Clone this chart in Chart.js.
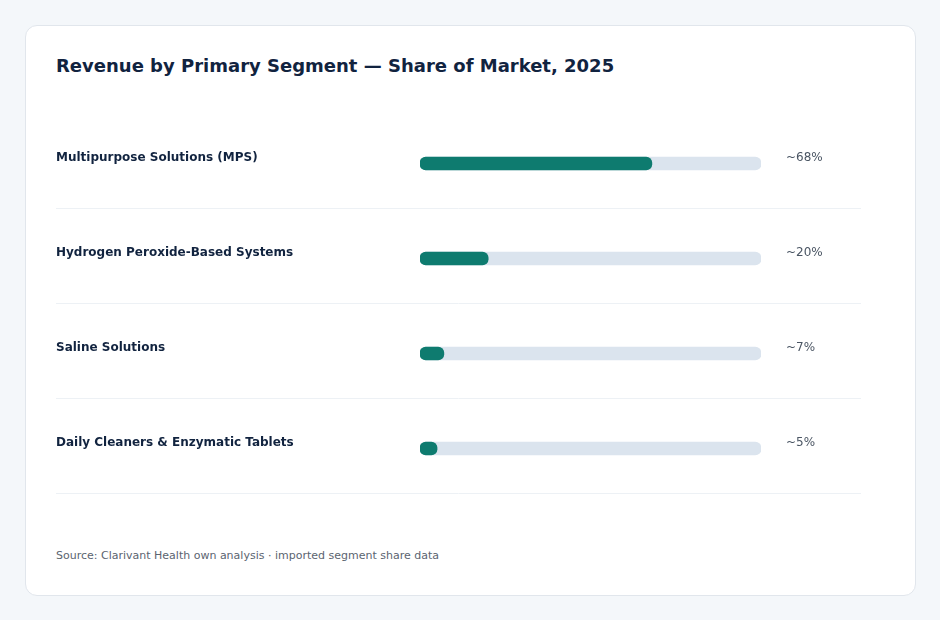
<!DOCTYPE html>
<html>
<head>
<meta charset="utf-8">
<script src="https://cdn.jsdelivr.net/npm/chart.js@4/dist/chart.umd.min.js"></script>
<style>
  html, body { margin: 0; padding: 0; background: #f4f7fa; width: 940px; height: 620px; overflow: hidden; font-family: "DejaVu Sans", sans-serif; }
  .card { position: absolute; left: 25px; top: 25px; width: 889px; height: 569px; background: #ffffff; border: 1px solid #e1e6ec; border-radius: 12px; }
  .title { position: absolute; left: 56px; top: 55px; font-size: 18px; line-height: 22px; font-weight: bold; color: #11233f; white-space: nowrap; }
  .source { position: absolute; left: 56px; top: 549px; font-size: 11px; line-height: 13px; color: #5b6470; white-space: nowrap; }
  #chart { position: absolute; left: 56px; top: 116px; }
</style>
</head>
<body>
<div class="card"></div>
<div class="title">Revenue by Primary Segment — Share of Market, 2025</div>
<canvas id="chart" width="805" height="380"></canvas>
<div class="source">Source: Clarivant Health own analysis · imported segment share data</div>
<script>
const categories = ['Multipurpose Solutions (MPS)', 'Hydrogen Peroxide-Based Systems', 'Saline Solutions', 'Daily Cleaners & Enzymatic Tablets'];
const shareValues = [68, 20, 7, 5];
const trackValues = [100, 100, 100, 100];
const valueLabels = ['~68%', '~20%', '~7%', '~5%'];

const rowDecor = {
  id: 'rowDecor',
  beforeDatasetsDraw(chart) {
    const ctx = chart.ctx;
    const y = chart.scales.y;
    const n = categories.length;
    ctx.save();
    ctx.strokeStyle = '#edf1f5';
    ctx.lineWidth = 1;
    for (let i = 0; i < n; i++) {
      const c = y.getPixelForValue(i);
      const half = (i < n - 1) ? (y.getPixelForValue(i + 1) - c) / 2 : (c - y.getPixelForValue(i - 1)) / 2;
      const py = Math.round(c + half - 2) - 0.5;
      ctx.beginPath();
      ctx.moveTo(0, py);
      ctx.lineTo(chart.width, py);
      ctx.stroke();
    }
    ctx.restore();
  },
  afterDatasetsDraw(chart) {
    const ctx = chart.ctx;
    const y = chart.scales.y;
    ctx.save();
    ctx.font = '12px "DejaVu Sans", sans-serif';
    ctx.fillStyle = '#4a5563';
    ctx.textAlign = 'left';
    ctx.textBaseline = 'middle';
    valueLabels.forEach((t, i) => {
      ctx.fillText(t, chart.chartArea.right + 25, y.getPixelForValue(i) - 6);
    });
    ctx.restore();
  }
};

new Chart(document.getElementById('chart'), {
  type: 'bar',
  data: {
    labels: categories,
    datasets: [
      { data: shareValues, backgroundColor: '#0e7b6f', barThickness: 13, borderRadius: 6, borderSkipped: false, grouped: false, order: 0 },
      { data: trackValues, backgroundColor: '#dbe4ee', barThickness: 13, borderRadius: 6, borderSkipped: false, grouped: false, order: 1 }
    ]
  },
  options: {
    indexAxis: 'y',
    responsive: false,
    animation: false,
    layout: { padding: { left: 0, right: 100, top: 0, bottom: 0 } },
    plugins: { legend: { display: false }, tooltip: { enabled: false } },
    scales: {
      x: { display: false, min: 0, max: 100 },
      y: {
        grid: { display: false },
        border: { display: false },
        afterFit(scale) { scale.width = 364; scale.paddingTop = 0; scale.paddingBottom = 0; },
        ticks: {
          crossAlign: 'far',
          labelOffset: -6,
          padding: 0,
          color: '#11233f',
          font: { family: '"DejaVu Sans", sans-serif', size: 12, weight: 'bold' }
        }
      }
    }
  },
  plugins: [rowDecor]
});
</script>
</body>
</html>
